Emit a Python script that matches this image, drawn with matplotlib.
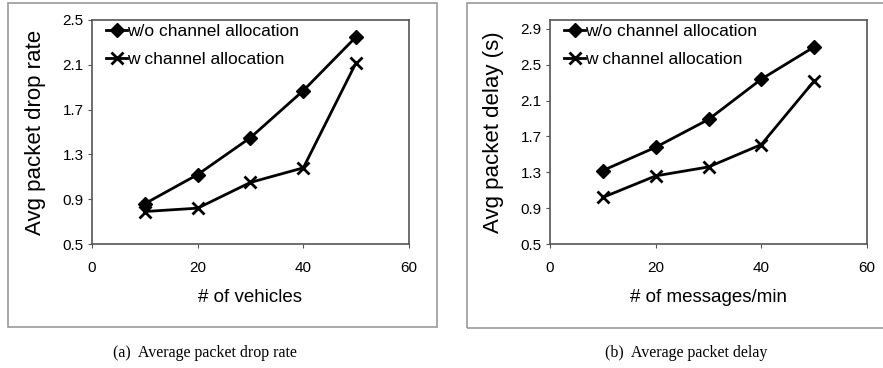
import matplotlib.pyplot as plt
from matplotlib.patches import Rectangle

# --- data ---
x_vals = [10, 20, 30, 40, 50]
drop_wo = [0.86, 1.12, 1.45, 1.87, 2.35]
drop_w = [0.79, 0.82, 1.05, 1.18, 2.12]
delay_wo = [1.32, 1.58, 1.89, 2.34, 2.70]
delay_w = [1.02, 1.26, 1.36, 1.61, 2.32]
x_ticks = [0, 20, 40, 60]
drop_ticks = [0.5, 0.9, 1.3, 1.7, 2.1, 2.5]
delay_ticks = [0.5, 0.9, 1.3, 1.7, 2.1, 2.5, 2.9]
labels = ['w/o channel allocation', 'w channel allocation']

plt.rcParams['font.family'] = ['Liberation Sans', 'DejaVu Sans']

W, H = 883, 368
fig = plt.figure(figsize=(W / 100, H / 100), dpi=100)


def px_rect(x0, y0, x1, y1):
    # pixel box (top-left origin) -> figure fraction [left, bottom, width, height]
    return [x0 / W, 1 - y1 / H, (x1 - x0) / W, (y1 - y0) / H]


# outer grey frames around each panel
for x0, y0, x1, y1 in [(8, 3, 437, 327), (467, 3, 890, 328)]:
    l, b, w, h = px_rect(x0, y0, x1, y1)
    fig.add_artist(Rectangle((l, b), w, h, transform=fig.transFigure,
                             fill=False, edgecolor='#9a9a9a', linewidth=1.2))


def draw_panel(rect, y_wo, y_w, yticks, ylim, xlabel, ylabel, caption, cap_x):
    ax = fig.add_axes(px_rect(*rect))
    ax.plot(x_vals, y_wo, color='black', lw=2, marker='D', ms=7.5, label=labels[0])
    ax.plot(x_vals, y_w, color='black', lw=2, marker='x', ms=8.5, mew=2, label=labels[1])
    ax.set_xlim(0, 60)
    ax.set_ylim(*ylim)
    ax.set_xticks(x_ticks)
    ax.set_yticks(yticks)
    ax.set_yticklabels([f'{t:.1f}' for t in yticks])
    ax.tick_params(labelsize=11, length=3, color='#555555')
    ax.tick_params(axis='y', pad=3)
    ax.tick_params(axis='x', pad=9)
    for s in ax.spines.values():
        s.set_color('#555555')
        s.set_linewidth(1.2)
    ax.set_xlabel(xlabel, fontsize=13.5, labelpad=10)
    ax.set_ylabel(ylabel, fontsize=16, labelpad=12)
    ax.legend(loc='upper left', frameon=False, fontsize=12.5, handlelength=1.2,
              handletextpad=0.0, borderaxespad=0.1, labelspacing=0.75,
              bbox_to_anchor=(0.018, 1.022))
    fig.text(cap_x / W, 1 - 353 / H, caption, fontsize=11.5,
             family=['Liberation Serif', 'DejaVu Serif'], ha='center', va='center')
    return ax


draw_panel((92, 20, 409, 244), drop_wo, drop_w, drop_ticks, (0.5, 2.5),
           '# of vehicles', 'Avg packet drop rate',
           '(a)  Average packet drop rate', 205)
draw_panel((550, 20, 867, 244), delay_wo, delay_w, delay_ticks, (0.5, 3.0),
           '# of messages/min', 'Avg packet delay (s)',
           '(b)  Average packet delay', 686)

fig.savefig('out.png', dpi=100)
